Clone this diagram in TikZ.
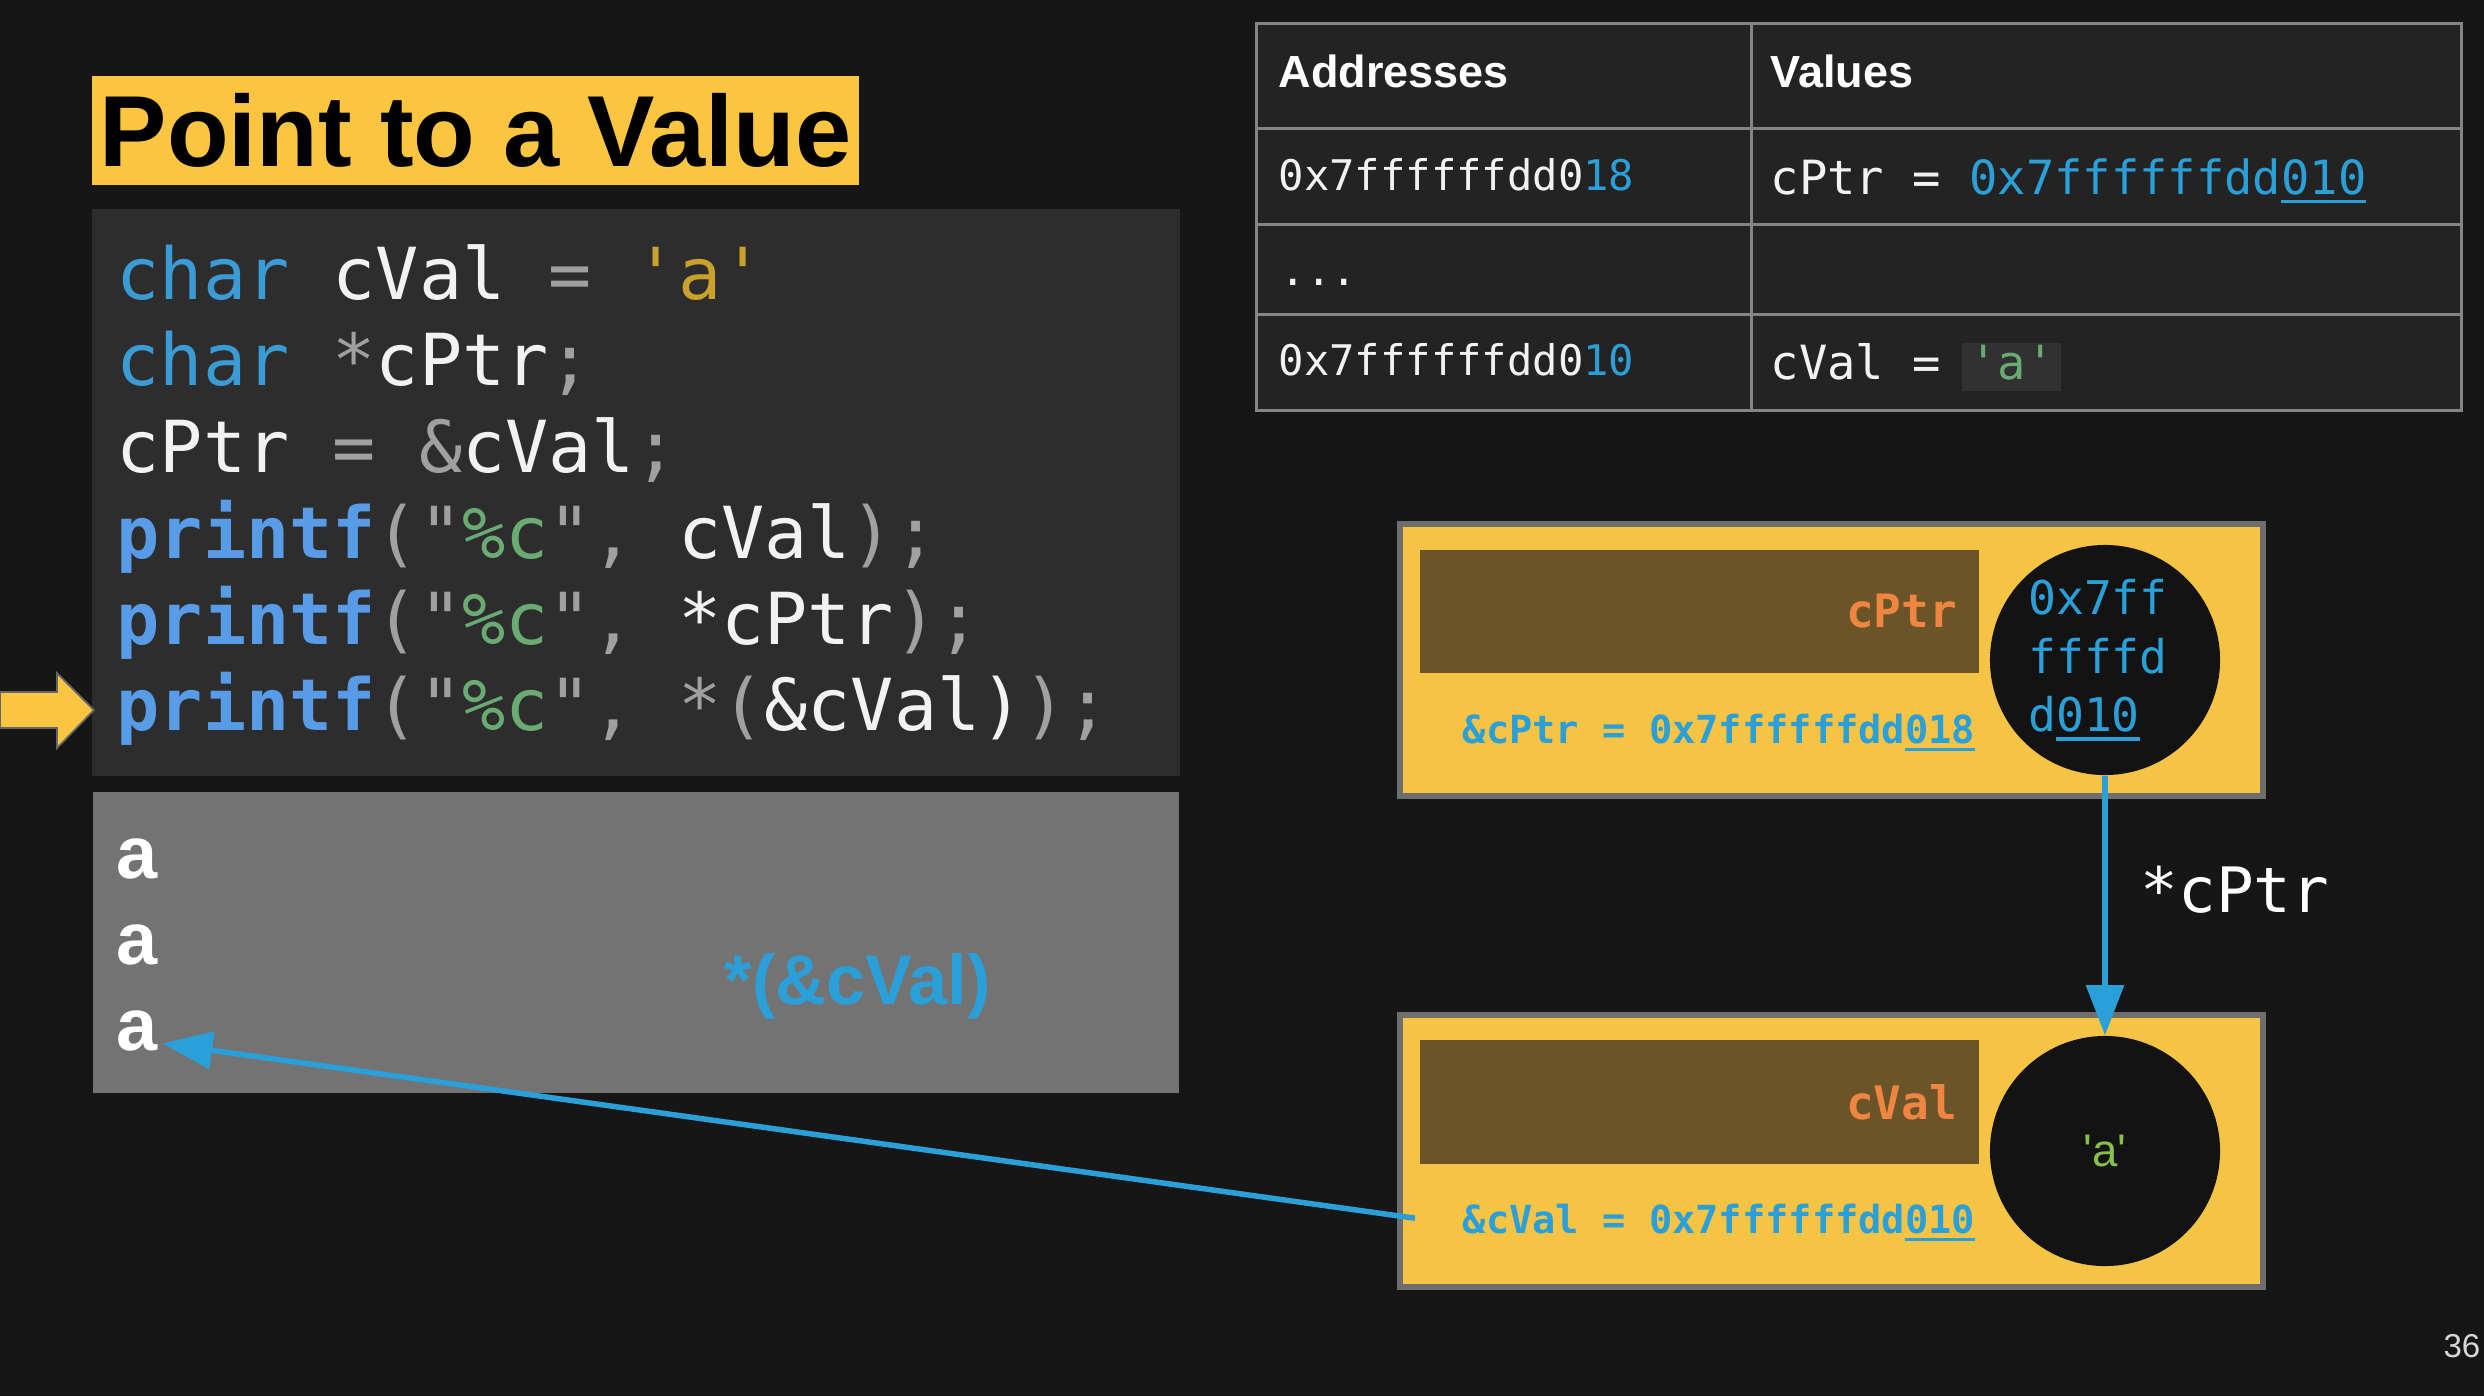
\documentclass[tikz,border=0pt]{standalone}
\usepackage{fontspec}
\setmainfont{Liberation Sans}
\setmonofont{DejaVu Sans Mono}
\newfontfamily\quotefont{Liberation Sans}
\usetikzlibrary{arrows.meta, positioning, calc}

\definecolor{slidebg}{HTML}{161616}
\definecolor{codebg}{HTML}{2D2D2D}
\definecolor{outbg}{HTML}{737373}
\definecolor{titleyellow}{HTML}{FAC540}
\definecolor{tablebg}{HTML}{232323}
\definecolor{tableline}{HTML}{858585}
\definecolor{chipbg}{HTML}{313131}
\definecolor{boxyellow}{HTML}{F6C444}
\definecolor{boxedge}{HTML}{6E6E6E}
\definecolor{cellblack}{HTML}{131313}
\definecolor{namebrown}{HTML}{6A5428}
\definecolor{nameorange}{HTML}{EE8540}
\definecolor{ptrblue}{HTML}{2A9FD8}
\definecolor{kwblue}{HTML}{3A9BD5}
\definecolor{fnblue}{HTML}{589BE6}
\definecolor{strgreen}{HTML}{6AAB73}
\definecolor{chargold}{HTML}{C9A12C}
\definecolor{valgreen}{HTML}{86C04C}
\definecolor{punct}{HTML}{A0A0A0}
\definecolor{codewhite}{HTML}{F2F2F2}
\definecolor{pagegray}{HTML}{D6D6D6}

% code colouring
\newcommand{\ckw}[1]{\textcolor{kwblue}{#1}}
\newcommand{\cfn}[1]{\textcolor{fnblue}{\bfseries #1}}
\newcommand{\cpn}[1]{\textcolor{punct}{#1}}
\newcommand{\cstr}[1]{\textcolor{strgreen}{#1}}
\newcommand{\lowbits}[1]{\textcolor{ptrblue}{#1}}
\newcommand{\addrul}[1]{\setbox0=\hbox{#1}\rlap{\rule[-0.2em]{\wd0}{0.08em}}\box0}
\newcommand{\chip}[1]{{\setlength{\fboxsep}{0pt}\kern-2pt\colorbox{chipbg}{\kern2pt\rule[-0.25em]{0pt}{1.02em}\textcolor{strgreen}{#1}\kern2pt}}}

\tikzset{
    titlebox/.style={rectangle, fill=titleyellow, minimum width=7.67cm, minimum height=1.09cm, inner sep=0pt, text=black, font=\fontsize{28.7}{30}\selectfont\bfseries},
    codepanel/.style={rectangle, fill=codebg, minimum width=10.88cm, minimum height=5.67cm, inner sep=0pt},
    outpanel/.style={rectangle, fill=outbg, minimum width=10.86cm, minimum height=3.01cm, inner sep=0pt},
    codeline/.style={anchor=base west, inner sep=0pt, text=codewhite, font=\fontsize{20.4}{24}\selectfont\ttfamily},
    outchar/.style={anchor=base west, inner sep=0pt, text=white, font=\fontsize{21}{24}\selectfont\bfseries},
    derefnote/.style={anchor=base west, inner sep=0pt, text=ptrblue, font=\fontsize{20}{23}\selectfont\bfseries},
    memtable/.style={rectangle, fill=tablebg, draw=tableline, line width=0.03cm, minimum width=12.04cm, minimum height=3.86cm, inner sep=0pt},
    gridline/.style={draw=tableline, line width=0.03cm},
    tablehead/.style={anchor=base west, inner sep=0pt, text=white, font=\fontsize{12.8}{15}\selectfont\bfseries},
    addrtext/.style={anchor=base west, inner sep=0pt, text=codewhite, font=\fontsize{12}{14}\selectfont\ttfamily},
    valtext/.style={anchor=base west, inner sep=0pt, text=codewhite, font=\fontsize{13.4}{16}\selectfont\ttfamily},
    membox/.style={rectangle, fill=boxyellow, draw=boxedge, line width=0.06cm, minimum width=8.63cm, minimum height=2.72cm, inner sep=0pt},
    namebar/.style={rectangle, fill=namebrown, minimum width=5.59cm, minimum height=1.23cm, inner xsep=0.22cm, inner ysep=0pt, text width=5.15cm, align=right, text=nameorange, font=\fontsize{13.1}{15}\selectfont\ttfamily\bfseries},
    boxaddr/.style={anchor=base west, inner sep=0pt, text=ptrblue, font=\fontsize{11}{13}\selectfont\ttfamily\bfseries},
    cellcircle/.style={circle, fill=cellblack, minimum size=2.3cm, inner sep=0pt, align=left, text=ptrblue, font=\fontsize{13.2}{16.6}\selectfont\ttfamily},
    ptrarrow/.style={draw=ptrblue, line width=0.055cm, -{Triangle[length=0.5cm, width=0.37cm]}},
    ptrlabel/.style={anchor=west, inner sep=0pt, text=white, font=\fontsize{17.8}{20}\selectfont\ttfamily},
    pagenum/.style={anchor=base east, inner sep=0pt, text=pagegray, font=\fontsize{9.4}{11}\selectfont}
}

\begin{document}
\begin{tikzpicture}[x=0.01cm, y=-0.01cm]
        % Background
        \fill [slidebg] (0,0) rectangle (2484,1396);
        \useasboundingbox (0,0) rectangle (2484,1396);

        % Title and code
        \node (title) [titlebox] at (475.5,130.5) {Point to a Value};
        \node (codebox) [codepanel] at (636,492.5) {};
        \node (outbox) [outpanel, below=0.14cm of codebox] {};

        \node (line1) [codeline] at (116,299) {\ckw{char} cVal \cpn{=} \textcolor{chargold}{'a'}};
        \node (line2) [codeline] at (116,385) {\ckw{char} \cpn{*}cPtr\cpn{;}};
        \node (line3) [codeline] at (116,472) {cPtr \cpn{= \&}cVal\cpn{;}};
        \node (line4) [codeline] at (116,558) {\cfn{printf}\cpn{("}\cstr{\%c}\cpn{",} cVal\cpn{);}};
        \node (line5) [codeline] at (116,644) {\cfn{printf}\cpn{("}\cstr{\%c}\cpn{",} *cPtr\cpn{);}};
        \node (line6) [codeline] at (116,730) {\cfn{printf}\cpn{("}\cstr{\%c}\cpn{",} \cpn{*(}\&cVal)\cpn{);}};

        % current line marker
        \filldraw [fill=titleyellow, draw=black!60, line width=0.5pt] (0,692) -- (57,692) -- (57,673) -- (94,710) -- (57,748) -- (57,728) -- (0,728) -- cycle;

        % Output
        \node (out1) [outchar] at (116,878) {a};
        \node (out2) [outchar] at (116,964) {a};
        \node (out3) [outchar] at (116,1050) {a};
        \node (deref) [derefnote] at (724,1004) {*(\&cVal)};

        % Memory table
        \node (table) [memtable] at (1859,217) {};
        \draw [gridline] (1257,128) -- (2461,128);
        \draw [gridline] (1257,224) -- (2461,224);
        \draw [gridline] (1257,314) -- (2461,314);
        \draw [gridline] (1751,24) -- (1751,410);

        \node (hdraddr) [tablehead] at (1278,87) {Addresses};
        \node (hdrval) [tablehead] at (1770,87) {Values};
        \node (addr1) [addrtext] at (1278,190) {0x7{fff}{fff}dd0\lowbits{18}};
        \node (val1) [valtext] at (1770,194) {cPtr = \lowbits{0x7{fff}{fff}dd\addrul{010}}};
        \node (skip) [addrtext] at (1280,285) {...};
        \node (addr2) [addrtext] at (1278,375) {0x7{fff}{fff}dd0\lowbits{10}};
        \node (val2) [valtext] at (1770,379) {cVal = \chip{'a'}};

        % Variables in memory
        \node (ptrbox) [membox] at (1831.5,660) {};
        \node (ptrname) [namebar] at (1699.5,611.5) {cPtr};
        \node (ptraddr) [boxaddr] at (1462,743) {\&cPtr = 0x7{fff}{fff}dd\addrul{018}};
        \node (ptrcell) [cellcircle] at (2105,660) {\hspace*{-0.14cm}0x7ff\\\hspace*{-0.14cm}ffffd\\\hspace*{-0.14cm}d\addrul{010}};

        \node (valbox) [membox, below=2.13cm of ptrbox] {};
        \node (valname) [namebar] at (1699.5,1102) {cVal};
        \node (valaddr) [boxaddr] at (1462,1233) {\&cVal = 0x7{fff}{fff}dd\addrul{010}};
        \node (valcell) [cellcircle] at (2105,1151) {\quotefont\fontsize{13}{15}\selectfont\textcolor{valgreen}{'a'}};

        \node (slideno) [pagenum] at (2481,1357) {36};

        % Connections
        \draw [ptrarrow] (ptrcell.south) -- node [ptrlabel, pos=0.44, xshift=0.33cm] {*cPtr} (valcell.north);
        \draw [ptrarrow] ([xshift=-0.47cm, yshift=0.04cm]valaddr.west) -- ([xshift=0.04cm, yshift=0.08cm]out3.south east);
    \end{tikzpicture}
\end{document}
